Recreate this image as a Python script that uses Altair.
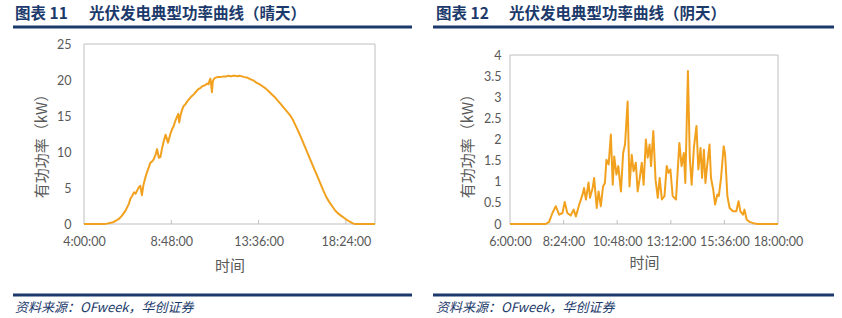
import altair as alt
import pandas as pd

# ---------------- data ----------------
# Sunny day (minutes since midnight, kW)
sunny_minutes = [240, 300, 315, 333, 345, 355, 366, 377, 388, 393, 399, 405, 410, 416, 421, 426,
                 431, 436, 442, 448, 454, 459, 465, 470, 476, 481, 487, 492, 498, 503, 509, 511,
                 517, 525, 531, 536, 541, 547, 551, 554, 558, 563, 569, 574, 580, 586, 592, 597,
                 602, 608, 614, 620, 625, 629, 635, 640, 646, 651, 654, 657, 659, 662, 665, 668,
                 673, 680, 690, 700, 710, 717, 725, 732, 739, 746, 752, 761, 770, 780, 790, 800,
                 810, 820, 830, 840, 850, 860, 870, 880, 890, 900, 910, 920, 930, 940, 950, 960,
                 970, 980, 990, 1000, 1010, 1020, 1030, 1040, 1050, 1060, 1070, 1080, 1090, 1100,
                 1106, 1112, 1118, 1124, 1130, 1134, 1200]
sunny_kw = [0, 0, 0.05, 0.2, 0.45, 0.7, 1.2, 1.85, 2.8, 3.5, 3.9, 4.4, 4.2, 4.7, 5.1, 5.3,
            4.0, 5.4, 6.4, 7.2, 7.9, 8.5, 8.7, 9.0, 9.6, 10.4, 9.2, 9.3, 10.6, 11.5, 12.4, 12.2,
            11.3, 12.5, 13.2, 13.6, 14.3, 14.9, 15.3, 14.1, 15.0, 15.8, 16.4, 16.6, 17.0, 17.3, 17.6, 17.8,
            18.0, 18.3, 18.6, 18.8, 18.9, 19.1, 19.2, 19.3, 19.5, 19.4, 19.9, 20.2, 19.6, 18.3, 19.8, 20.1,
            20.3, 20.4, 20.4, 20.5, 20.5, 20.6, 20.5, 20.6, 20.6, 20.5, 20.6, 20.5, 20.4, 20.3, 20.1, 19.9,
            19.6, 19.4, 19.1, 18.8, 18.4, 18.0, 17.6, 17.1, 16.6, 16.1, 15.6, 15.1, 14.4, 13.5, 12.6, 11.6,
            10.6, 9.6, 8.6, 7.6, 6.6, 5.6, 4.6, 3.7, 3.0, 2.4, 1.8, 1.4, 1.1, 0.8,
            0.6, 0.45, 0.3, 0.15, 0.05, 0, 0]

# Cloudy day (minutes since midnight, kW)
cloudy_minutes = [360, 456, 465, 474, 483, 492, 501, 507, 514, 523, 531, 537, 546, 555, 559, 564,
                  571, 575, 582, 586, 593, 598, 604, 610, 615, 619, 625, 631, 636, 640, 646, 651,
                  658, 664, 669, 676, 681, 687, 692, 698, 703, 708, 714, 719, 725, 730, 735, 739,
                  745, 751, 757, 762, 768, 775, 781, 786, 791, 797, 806, 815, 821, 827, 831, 838,
                  843, 848, 854, 861, 866, 872, 876, 881, 885, 890, 896, 900, 906, 911, 917, 921,
                  927, 934, 938, 944, 950, 959, 968, 974, 979, 986, 990, 996, 1004, 1017, 1026, 1080]
cloudy_kw = [0, 0, 0.05, 0.26, 0.42, 0.22, 0.26, 0.52, 0.26, 0.2, 0.34, 0.18, 0.46, 0.7, 0.85, 0.58,
             0.98, 0.62, 0.85, 1.09, 0.38, 0.77, 0.42, 0.89, 0.97, 1.52, 1.41, 2.12, 0.93, 1.6, 1.17, 1.37,
             0.77, 1.68, 1.88, 2.9, 0.89, 1.64, 1.25, 1.45, 0.77, 1.05, 1.45, 0.93, 2.0, 1.57, 1.88, 1.37,
             2.2, 1.05, 0.62, 1.09, 0.58, 0.66, 1.37, 1.21, 1.29, 0.66, 0.58, 1.92, 1.37, 1.68, 0.97, 3.62,
             1.57, 0.93, 1.8, 2.32, 1.29, 1.8, 1.09, 1.76, 0.97, 1.41, 1.88, 1.09, 0.81, 0.46, 0.7, 0.66,
             1.09, 1.84, 1.64, 0.66, 0.38, 0.3, 0.3, 0.54, 0.3, 0.22, 0.34, 0.1, 0.05, 0.01, 0, 0]

sunny_xticks = [240, 528, 816, 1104]
sunny_xlabels = ["4:00:00", "8:48:00", "13:36:00", "18:24:00"]
sunny_yticks = [0, 5, 10, 15, 20, 25]

cloudy_xticks = [360, 504, 648, 792, 936, 1080]
cloudy_xlabels = ["6:00:00", "8:24:00", "10:48:00", "13:12:00", "15:36:00", "18:00:00"]
cloudy_yticks = [0, 0.5, 1, 1.5, 2, 2.5, 3, 3.5, 4]

titles_num = ["图表 11", "图表 12"]
titles_txt = ["光伏发电典型功率曲线（晴天）", "光伏发电典型功率曲线（阴天）"]
source_txt = "资料来源：OFweek，华创证券"
x_title = "时间"
y_title = "有功功率（kW）"

# ---------------- style ----------------
LINE = "#F2A11F"
NAVY = "#1B3A6B"
GRAY_TXT = "#595959"
FRAME = "#BFBFBF"
CJK = "Noto Sans CJK SC"
NUM = "Lato"

TOP = 43        # absolute y of the (common) panel origin
H = 180         # common panel height (plot bottom at 223)


def label_expr(vals, labels):
    parts = [f"datum.value == {v} ? '{l}'" for v, l in zip(vals, labels)]
    return " : ".join(parts) + " : ''"


def panel(minutes, kw, xdom, xticks, xlabels, ydom, yticks, width, plot_top,
          tnum, ttxt, lab_pad_y, title_pad_x, g):
    df = pd.DataFrame({"t": minutes, "p": kw})
    inset = plot_top - TOP
    xaxis = alt.Axis(values=xticks, labelExpr=label_expr(xticks, xlabels), title=x_title,
                     domain=False, ticks=False, grid=False, labelFlush=False, labelOverlap=False,
                     labelBound=False, labelFont=NUM, labelFontSize=12.5, labelColor=GRAY_TXT,
                     labelPadding=11, titleFont=CJK, titleFontSize=15, titleFontWeight="normal",
                     titleColor=GRAY_TXT, titlePadding=title_pad_x)
    yaxis = alt.Axis(values=yticks, format="~g", title=y_title, domain=False, ticks=False,
                     grid=False, labelFont=NUM, labelFontSize=12.5, labelColor=GRAY_TXT,
                     labelPadding=lab_pad_y, labelFlush=False, labelOverlap=False,
                     titleFont=CJK, titleFontSize=15, titleFontWeight="normal",
                     titleColor=GRAY_TXT, titleX=-35, titleY=98)
    xs = alt.Scale(domain=xdom, nice=False, zero=False)
    ys = alt.Scale(domain=ydom, nice=False, range=[H, inset])
    frame = alt.Chart(pd.DataFrame({"a": [0]})).mark_rect(
        fillOpacity=0, stroke=FRAME, strokeWidth=1).encode(
        x=alt.value(0), x2=alt.value(width), y=alt.value(inset), y2=alt.value(H))
    line = alt.Chart(df).mark_line(color=LINE, strokeWidth=2, strokeJoin="round").encode(
        x=alt.X("t:Q", scale=xs, axis=xaxis),
        y=alt.Y("p:Q", scale=ys, axis=yaxis),
    )
    inner = [v for v in xticks if xdom[0] < v < xdom[1]]
    tick_layer = alt.Chart(pd.DataFrame({"t": inner})).mark_rule(color=FRAME, strokeWidth=1).encode(
        x=alt.X("t:Q", scale=xs, axis=xaxis),
        y=alt.value(H - 4), y2=alt.value(H),
    )

    def text(s, x, y, size, weight="normal", style="normal"):
        return alt.Chart(pd.DataFrame({"s": [s]})).mark_text(
            align="left", baseline="middle", font=CJK, fontSize=size, fontWeight=weight,
            fontStyle=style, color=NAVY).encode(text="s:N", x=alt.value(x), y=alt.value(y))

    def hrule(x0, x1, y):
        return alt.Chart(pd.DataFrame({"a": [0]})).mark_rule(color=NAVY, strokeWidth=3).encode(
            x=alt.value(x0), x2=alt.value(x1), y=alt.value(y))

    layers = [
        frame, tick_layer, line,
        text(tnum, g["num_x"], 13 - TOP, 15.5, "bold"),
        text(ttxt, g["txt_x"], 13 - TOP, 15.5, "bold"),
        hrule(g["r0"], g["r1"], 26 - TOP),
        hrule(g["r0"], g["r1"], 294 - TOP),
        text(source_txt, g["src_x"], 307 - TOP, 13, "normal", "italic"),
    ]
    return alt.layer(*layers).properties(width=width, height=H)


left = panel(sunny_minutes, sunny_kw, [240, 1200], sunny_xticks, sunny_xlabels, [0, 25], sunny_yticks,
             291, 43, titles_num[0], titles_txt[0], 13, 11,
             {"num_x": 13 - 82, "txt_x": 87 - 82, "r0": 11 - 82, "r1": 410 - 82, "src_x": 13 - 82})
right = panel(cloudy_minutes, cloudy_kw, [360, 1080], cloudy_xticks, cloudy_xlabels, [0, 4], cloudy_yticks,
              268, 54, titles_num[1], titles_txt[1], 9, 8,
              {"num_x": 435 - 509, "txt_x": 508 - 509, "r0": 432 - 509, "r1": 833 - 509, "src_x": 435 - 509})

chart = alt.hconcat(left, right, spacing=17).properties(
    padding={"left": 11, "top": 7, "right": 0, "bottom": 0},
    background="white",
).configure_view(stroke=None)

chart.save("out.html", embed_options={"renderer": "svg", "actions": False})
